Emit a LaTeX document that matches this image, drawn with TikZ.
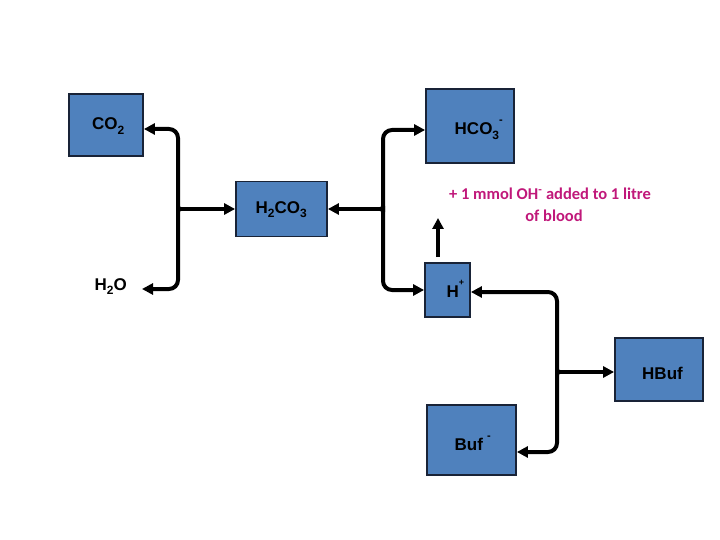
\documentclass[tikz,border=0pt]{standalone}
\usepackage{fontspec}
\setmainfont{Liberation Sans}
\newfontfamily\redfont{Carlito}
\usetikzlibrary{arrows.meta}
\definecolor{boxblue}{RGB}{79,129,189}
\definecolor{boxline}{RGB}{25,35,55}
\definecolor{notered}{RGB}{192,24,122}
\newcommand\chsub[1]{\raisebox{-4.5pt}{\fontsize{12}{12}\selectfont #1}}
\newcommand\chsupm{\raisebox{11pt}{\fontsize{11}{11}\selectfont -}}
\newcommand\chsupp{\raisebox{12pt}{\fontsize{9}{9}\selectfont +}}
\begin{document}
\begin{tikzpicture}[x=1pt,y=-1pt,
  chem/.style={draw=boxline, line width=1.8pt, fill=boxblue, inner sep=0pt},
  lbl/.style={font=\bfseries\fontsize{17}{20}\selectfont, inner sep=0pt, anchor=base west},
  note/.style={font=\redfont\bfseries\fontsize{16.5}{22}\selectfont, text=notered, inner sep=0pt, anchor=base},
  conn/.style={line width=4pt, rounded corners=9pt, -{Triangle[length=11pt,width=11pt]}}]
\useasboundingbox (0,0) rectangle (720,540);
% boxes
\node[chem, minimum width=74pt, minimum height=62pt] (co2) at (106,125) {};
\node[chem, minimum width=91pt, minimum height=55pt] (h2co3) at (281.5,209) {};
\node[chem, minimum width=88pt, minimum height=74pt] (hco3) at (470,126) {};
\node[chem, minimum width=45pt, minimum height=54pt] (hplus) at (447.5,290) {};
\node[chem, minimum width=88pt, minimum height=63pt] (hbuf) at (659,369.5) {};
\node[chem, minimum width=89pt, minimum height=70pt] (bufm) at (471.5,440) {};
% labels
\node[lbl] (co2t) at (92,130) {CO\chsub{2}};
\node[lbl] (h2co3t) at (255.5,213.5) {H\chsub{2}CO\chsub{3}};
\node[lbl] (hco3t) at (454.5,135) {HCO\chsub{3}\chsupm};
\node[lbl] (hplust) at (446.5,297) {H\chsupp};
\node[lbl] (hbuft) at (642,379) {HBuf};
\node[lbl] (bufmt) at (454.5,450) {Buf\hspace{4pt}\chsupm};
\node[lbl] (h2o) at (94.5,290) {H\chsub{2}O};
% note
\node[note] (note1) at (550,200) {+ 1 mmol OH\textsuperscript{-} added to 1 litre};
\node[note] (note2) at (554,222) {of blood};
% junctions
\coordinate (j1) at (181,209);
\coordinate (j2) at (380,209);
\coordinate (j3) at (560,372);
\coordinate (uptip) at (438,218);
\coordinate (h2otip) at (142,289);
% connectors
\draw[conn] (j1) .. controls (178,209) .. (178,203) |- ([yshift=-4pt]co2.east);
\draw[conn] (j1) .. controls (178,209) .. (178,215) |- (h2otip);
\draw[conn] (j1) -- (h2co3.west);
\draw[conn] (j2) -- (h2co3.east);
\draw[conn] (j2) .. controls (383,209) .. (383,203) |- ([yshift=-4pt]hco3.west);
\draw[conn] (j2) .. controls (383,209) .. (383,215) |- (hplus.west);
\draw[conn] ([xshift=-9.5pt,yshift=5pt]hplus.north) -- (uptip);
\draw[conn] (j3) .. controls (557,372) .. (557,366) |- ([yshift=-2pt]hplus.east);
\draw[conn] (j3) -- ([yshift=-2.5pt]hbuf.west);
\draw[conn] (j3) .. controls (557,372) .. (557,378) |- ([yshift=-12pt]bufm.east);
\end{tikzpicture}
\end{document}
